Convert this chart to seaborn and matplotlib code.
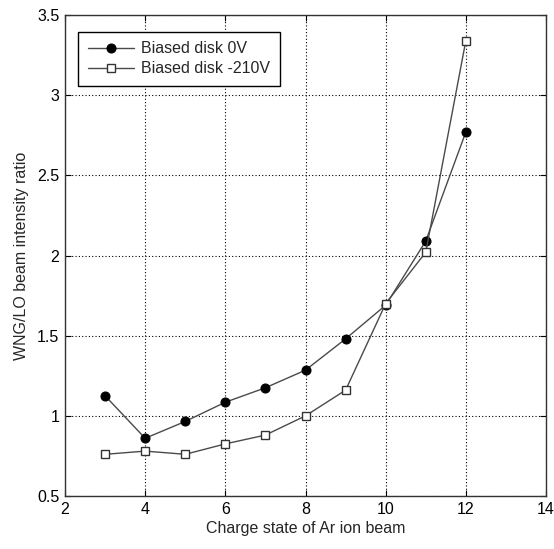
import matplotlib
matplotlib.use("Agg")
import matplotlib.pyplot as plt
import seaborn as sns
import pandas as pd

charge = [3, 4, 5, 6, 7, 8, 9, 10, 11, 12]
ratio_0v = [1.125, 0.86, 0.965, 1.085, 1.175, 1.285, 1.48, 1.69, 2.09, 2.77]
ratio_210v = [0.76, 0.78, 0.76, 0.825, 0.88, 1.0, 1.16, 1.70, 2.02, 3.34]
labels = ["Biased disk 0V", "Biased disk -210V"]
xticks = [2, 4, 6, 8, 10, 12, 14]
yticks = [0.5, 1, 1.5, 2, 2.5, 3, 3.5]

sns.set_style("white")
plt.rcParams['font.family'] = ['Liberation Sans', 'DejaVu Sans']

df0 = pd.DataFrame({"x": charge, "y": ratio_0v})
df1 = pd.DataFrame({"x": charge, "y": ratio_210v})

fig = plt.figure(figsize=(5.54, 5.49), dpi=100)
ax = fig.add_axes([65/554, 1-496/549, (546-65)/554, (496-15)/549])

sns.lineplot(data=df0, x="x", y="y", ax=ax, color="#4a4a4a", lw=1.0,
             marker="o", markersize=6.5, markerfacecolor="black",
             markeredgecolor="black", label=labels[0])
sns.lineplot(data=df1, x="x", y="y", ax=ax, color="#4a4a4a", lw=1.0,
             marker="s", markersize=5.8, markerfacecolor="white",
             markeredgecolor="#333333", markeredgewidth=1.0, label=labels[1])

ax.set_xlim(2, 14)
ax.set_ylim(0.5, 3.5)
ax.set_xticks(xticks)
ax.set_yticks(yticks)
ax.set_yticklabels(["0.5", "1", "1.5", "2", "2.5", "3", "3.5"])
ax.grid(True, color="black", linestyle=(0, (1, 2)), linewidth=0.8)
ax.tick_params(direction="in", length=4, labelsize=11.5, colors="black",
               top=True, right=True, bottom=True, left=True, pad=4)
for s in ax.spines.values():
    s.set_color("#333333")
    s.set_linewidth(1.0)
ax.set_xlabel("Charge state of Ar ion beam", fontsize=11.5, labelpad=3)
ax.set_ylabel("WNG/LO beam intensity ratio", fontsize=11.5, labelpad=6)

leg = ax.legend(loc="upper left", fontsize=11.5, frameon=True, fancybox=False,
                edgecolor="black", handlelength=2.9, handletextpad=0.45,
                borderpad=0.6, labelspacing=0.3, borderaxespad=0,
                bbox_to_anchor=(0.027, 0.965), framealpha=1)
leg.get_frame().set_linewidth(1.0)

fig.savefig("out.png", dpi=100)
